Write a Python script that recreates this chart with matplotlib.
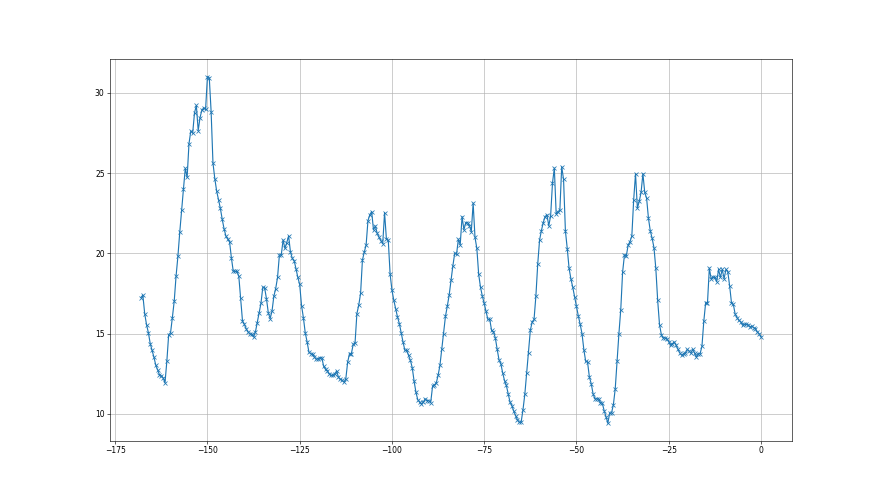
import numpy as np
import matplotlib.pyplot as plt

# Readings every half hour, last 168 hours (x = hours before now)
x_start = -168
x_step = 0.5

# values, split in pieces so it stays readable
y_part1 = [17.25, 17.4, 16.25, 15.56, 15.06, 14.38, 13.96, 13.54, 13.04, 12.75,
           12.44, 12.38, 12.25, 11.94, 13.27, 14.94, 15.04, 16.0, 17.02, 18.58,
           19.81, 21.31, 22.69, 24.0, 25.29, 24.73, 26.83, 27.63, 27.48, 28.75,
           29.21, 27.65, 28.46, 28.92, 29.06, 28.96, 31.0, 30.94, 28.83, 25.63,
           24.65, 23.88, 23.33, 22.81, 22.13, 21.54, 21.08, 20.88, 20.71, 19.71,
           18.88, 18.88, 18.88, 18.58, 17.21, 15.79, 15.58]
y_part2 = [15.31, 15.1, 15.0, 14.96, 14.79, 15.1, 15.69, 16.27, 16.88, 17.88,
           17.85, 17.17, 16.29, 15.94, 16.4, 17.33, 17.81, 18.5, 19.9, 19.88,
           20.83, 20.31, 20.67, 21.08, 20.08, 19.69, 19.54, 19.04, 18.5, 18.06,
           16.75, 16.0, 15.06, 14.5, 13.85, 13.75, 13.71, 13.54, 13.4, 13.44,
           13.5, 13.5, 12.96, 12.77, 12.67, 12.5, 12.4, 12.4, 12.5, 12.67,
           12.29, 12.15, 12.1, 11.98, 12.19, 13.23, 13.75]
y_part3 = [13.75, 14.33, 14.42, 16.25, 16.77, 17.5, 19.58, 20.08, 20.52, 22.04,
           22.4, 22.6, 21.46, 21.7, 21.25, 21.0, 20.8, 20.6, 22.54, 20.88,
           20.83, 18.71, 17.71, 17.08, 16.56, 16.04, 15.63, 15.04, 14.48, 13.96,
           13.96, 13.65, 13.33, 12.88, 12.04, 11.35, 10.88, 10.73, 10.63, 10.73,
           10.94, 10.83, 10.83, 10.71, 11.71, 11.81, 11.92, 12.4, 13.02, 14.02,
           15.0, 16.08, 16.71, 17.4, 18.33, 19.21, 20.0]
y_part4 = [19.94, 20.88, 20.54, 22.29, 21.46, 21.92, 21.92, 21.71, 21.35, 23.13,
           21.0, 20.31, 18.69, 17.88, 17.33, 16.88, 16.38, 15.88, 15.88, 15.2,
           15.1, 14.75, 14.04, 13.38, 13.13, 12.56, 12.08, 11.77, 11.25, 10.73,
           10.52, 10.17, 9.9, 9.63, 9.48, 9.48, 10.25, 11.21, 12.54, 13.79,
           15.21, 15.73, 15.88, 17.33, 19.33, 20.83, 21.42, 21.92, 22.29, 22.4,
           21.71, 22.35, 24.38, 25.31]
y_part5 = [22.46, 22.6, 22.7, 25.4, 24.6, 21.4, 20.3, 19.06, 18.4, 17.88,
           17.29, 16.7, 16.1, 15.58, 15.0, 14.0, 13.27, 13.23, 12.29, 11.88,
           11.25, 10.94, 10.94, 10.94, 10.69, 10.67, 10.2, 9.83, 9.42, 10.06,
           10.06, 10.58, 11.56, 13.29, 15.0, 16.5, 18.83, 19.9, 19.83, 20.52,
           20.73, 21.08, 23.33, 24.96, 22.81, 23.23, 23.79, 24.96, 23.79, 23.44,
           22.19, 21.4, 20.94, 20.35, 19.06, 17.08, 15.56, 14.94, 14.73]
y_part6 = [14.73, 14.69, 14.5, 14.27, 14.38, 14.48, 14.27, 14.02, 13.8, 13.65,
           13.75, 13.79, 14.02, 13.92, 13.79, 14.02, 13.79, 13.54, 13.75, 13.75,
           14.21, 15.77, 16.92, 16.92, 19.08, 18.4, 18.54, 18.5, 18.23, 19.0,
           18.5, 19.0, 18.42, 19.0, 18.85, 17.98, 16.92, 16.83, 16.21, 16.0,
           15.83, 15.73, 15.52, 15.58, 15.58, 15.56, 15.42, 15.46, 15.38, 15.31,
           15.1, 15.0, 14.79]

y = y_part1 + y_part2 + y_part3 + y_part4 + y_part5 + y_part6
x = x_start + x_step * np.arange(len(y))

plt.figure(figsize=(16, 9), dpi=55)
plt.plot(x, y, marker='x')
plt.grid()
plt.savefig('out.png')
